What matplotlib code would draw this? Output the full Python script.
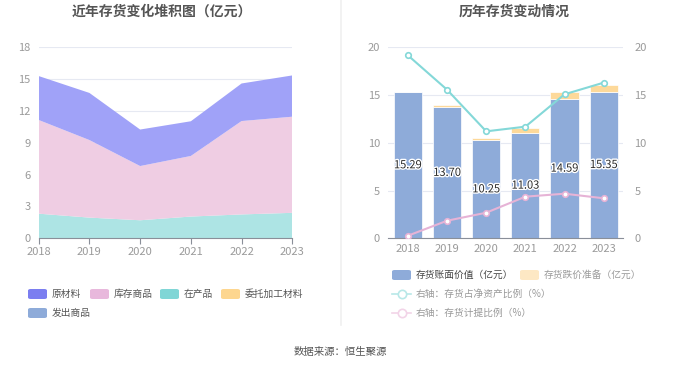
import matplotlib
matplotlib.use("Agg")
import matplotlib.pyplot as plt
import matplotlib.patheffects as pe
from matplotlib.patches import FancyBboxPatch
from matplotlib.lines import Line2D
import numpy as np

plt.rcParams['font.family'] = ['Noto Sans CJK SC', 'DejaVu Sans']

years = ['2018', '2019', '2020', '2021', '2022', '2023']

# left: stacked area (亿元)
zaichanpin = [2.32, 1.95, 1.70, 2.05, 2.25, 2.40]
kucun = [8.83, 7.31, 5.11, 5.71, 8.80, 9.06]
yuancailiao = [4.14, 4.44, 3.44, 3.27, 3.54, 3.89]
weituo = [0, 0, 0, 0, 0, 0]
fachu = [0, 0, 0, 0, 0, 0]

# right: bars + lines
book_value = [15.29, 13.70, 10.25, 11.03, 14.59, 15.35]
provision = [0.04, 0.26, 0.28, 0.50, 0.71, 0.67]
ratio_net_assets = [19.16, 15.56, 11.20, 11.69, 15.08, 16.30]
ratio_provision = [0.27, 1.84, 2.68, 4.36, 4.67, 4.19]

TICK = '#9a9a9a'
GRID = '#e6e9f2'

fig = plt.figure(figsize=(6.8, 3.67), dpi=100)

# ---------- left chart
ax = fig.add_axes([38.7/680, 1-238.3/367, 253.6/680, 191/367])
x = np.arange(len(years))
ax.stackplot(x, zaichanpin, weituo, fachu, kucun, yuancailiao,
             colors=['#ade4e4', '#fde3b0', '#b8cbe8', '#efcde3', '#a0a2f8'],
             linewidth=0)
ax.set_xlim(0, 5)
ax.set_ylim(0, 18)
ax.set_yticks([0, 3, 6, 9, 12, 15, 18])
ax.set_xticks(x)
ax.set_xticklabels(years)
ax.grid(axis='y', color=GRID, lw=0.8)
ax.set_axisbelow(True)
for s in ['top', 'right', 'left']:
    ax.spines[s].set_visible(False)
ax.spines['bottom'].set_color('#8a8f99')
ax.tick_params(axis='y', length=0, colors=TICK, labelsize=8, pad=6)
ax.tick_params(axis='x', length=4, color='#8a8f99', colors=TICK, labelsize=8, pad=2)

# ---------- right chart
ax2 = fig.add_axes([388.3/680, 1-238.3/367, 235/680, 191/367])
bw = 0.72
ax2.bar(x, book_value, width=bw, color='#8eabd9', edgecolor='white', lw=0.5, zorder=2)
ax2.bar(x, provision, bottom=book_value, width=bw, color='#fdd99a', edgecolor='white', lw=0.5, zorder=2)
for xi, v in zip(x, book_value):
    ax2.text(xi, v/2, f'{v:.2f}', ha='center', va='center', fontsize=8, color='#2a2a2a', zorder=5,
             path_effects=[pe.withStroke(linewidth=2, foreground='white')])
ax2.set_xlim(-0.5, 5.5)
ax2.set_ylim(0, 20)
ax2.set_yticks([0, 5, 10, 15, 20])
ax2.set_xticks(x)
ax2.set_xticklabels(years)
ax2.grid(axis='y', color=GRID, lw=0.8)
ax2.set_axisbelow(True)
for s in ['top', 'right', 'left']:
    ax2.spines[s].set_visible(False)
ax2.spines['bottom'].set_color('#8a8f99')
ax2.tick_params(axis='y', length=0, colors=TICK, labelsize=8, pad=6)
ax2.tick_params(axis='x', length=0, colors=TICK, labelsize=8, pad=4)

ax3 = ax2.twinx()
ax3.plot(x, ratio_net_assets, color='#84d8d8', lw=1.5, marker='o', ms=4,
         mfc='white', mec='#84d8d8', mew=1.2, zorder=4)
ax3.plot(x, ratio_provision, color='#e6b3d6', lw=1.5, marker='o', ms=4,
         mfc='white', mec='#e6b3d6', mew=1.2, zorder=4)
ax3.set_ylim(0, 20)
ax3.set_yticks([0, 5, 10, 15, 20])
for s in ['top', 'right', 'left', 'bottom']:
    ax3.spines[s].set_visible(False)
ax3.tick_params(axis='y', length=0, colors=TICK, labelsize=8, pad=8)

# ---------- titles, divider, footer
fig.text(162/680, 1-12/367, '近年存货变化堆积图（亿元）', ha='center', va='center',
         fontsize=10, fontweight='bold', color='#555555')
fig.text(514/680, 1-12/367, '历年存货变动情况', ha='center', va='center',
         fontsize=10, fontweight='bold', color='#555555')
fig.add_artist(Line2D([341/680, 341/680], [1-325/367, 1], color='#f0f0f0', lw=1.2))
fig.text(340/680, 1-352/367, '数据来源：恒生聚源', ha='center', va='center',
         fontsize=7.5, color='#555555')

# ---------- legends (manual)
def patch(px, py, color):
    fig.add_artist(FancyBboxPatch((px/680, 1-(py+5)/367), 19/680, 10/367,
                                  boxstyle='round,pad=0,rounding_size=0.004',
                                  transform=fig.transFigure, color=color, lw=0))

left_items = [('原材料', '#7b7ef0', 28, 294), ('库存商品', '#e8b8dc', 90, 294),
              ('在产品', '#80d6d6', 160, 294), ('委托加工材料', '#fdd68f', 221, 294),
              ('发出商品', '#8eabd9', 28, 313)]
for name, c, px, py in left_items:
    patch(px, py, c)
    fig.text((px+24)/680, 1-py/367, name, ha='left', va='center', fontsize=7, color='#555555')

patch(392, 275, '#8eabd9')
fig.text(416/680, 1-275/367, '存货账面价值（亿元）', ha='left', va='center', fontsize=7, color='#444444')
patch(520, 275, '#fde8c4')
fig.text(544/680, 1-275/367, '存货跌价准备（亿元）', ha='left', va='center', fontsize=7, color='#999999')

for py, c, name in [(294, '#b8e8e8', '右轴：存货占净资产比例（%）'),
                    (313, '#f2d4e8', '右轴：存货计提比例（%）')]:
    fig.add_artist(Line2D([392/680, 411/680], [1-py/367, 1-py/367], color=c, lw=1.2))
    fig.add_artist(Line2D([401.5/680], [1-py/367], color=c, marker='o', ms=6,
                          mfc='white', mec=c, mew=1.2))
    fig.text(416/680, 1-py/367, name, ha='left', va='center', fontsize=7, color='#999999')

fig.savefig('out.png', dpi=100, facecolor='white')
